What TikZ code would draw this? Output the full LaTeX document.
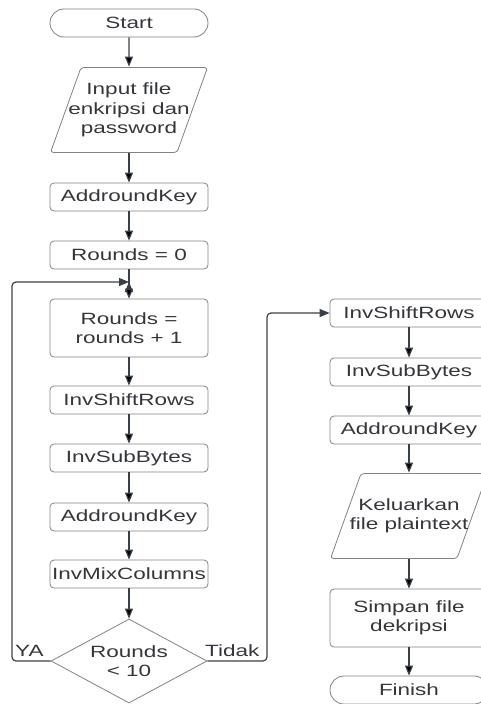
\documentclass[tikz,border=0pt]{standalone}
\usepackage{fontspec}
\setmainfont{Liberation Sans}[FakeStretch=1.38]
\usepackage{xcolor}
\definecolor{textgray}{RGB}{51,54,58}
\definecolor{boxgray}{RGB}{130,130,130}
\definecolor{linegray}{RGB}{58,64,72}
\usepackage{tikz}
\usetikzlibrary{arrows.meta}
\usetikzlibrary{shapes.misc}
\usetikzlibrary{shapes.geometric}
\newcommand{\widthbox}{158pt}
\newcommand{\heightbox}{28pt}
\newcommand{\heighttall}{58pt}
\newcommand{\slantio}{31pt}
\tikzset{
    common/.style={draw=boxgray, line width=0.8pt, text=textgray, align=center,
        inner sep=0pt, minimum width=\widthbox, minimum height=\heightbox,
        font=\fontsize{16.3}{19.5}\selectfont},
    proc/.style={common, rectangle, rounded corners=4pt},
    tallproc/.style={proc, minimum height=\heighttall},
    term/.style={common, rounded rectangle},
    io/.style={common, rectangle, draw=none, minimum height=86pt,
        path picture={
            \draw[boxgray, line width=0.8pt, rounded corners=3pt]
                ([xshift=\slantio, yshift=-0.5pt]path picture bounding box.north west)
                -- ([xshift=-0.5pt, yshift=-0.5pt]path picture bounding box.north east)
                -- ([xshift=-\slantio, yshift=0.5pt]path picture bounding box.south east)
                -- ([xshift=0.5pt, yshift=0.5pt]path picture bounding box.south west)
                -- cycle;
        }},
    cond/.style={common, diamond, aspect=1.85, minimum width=156pt, minimum height=84pt},
    flow/.style={draw=linegray, line width=1.2pt, >={Triangle[length=10pt,width=8pt]}},
    branch/.style={text=textgray, font=\fontsize{16.3}{19.5}\selectfont, inner sep=0pt}
}
\begin{document}
\begin{tikzpicture}[x=1pt,y=-1pt]
    \useasboundingbox (0,0) rectangle (480,704);
    % main column
    \path (129,23)
        node[term] (start) {Start}
        to ++(0,87) node[io] (input) {Input file\\enkripsi dan\\password}
        to ++(0,87) node[proc] (addkey0) {AddroundKey}
        to ++(0,58) node[proc] (zero) {Rounds = 0}
        to ++(0,73) node[tallproc] (inc) {Rounds =\\rounds + 1}
        to ++(0,72) node[proc] (shift1) {InvShiftRows}
        to ++(0,58) node[proc] (sub1) {InvSubBytes}
        to ++(0,59) node[proc] (addkey1) {AddroundKey}
        to ++(0,57) node[proc] (mix) {InvMixColumns}
        to ++(0,87) node[cond] (check) {Rounds\\< 10};
    % final column
    \path (409,313)
        node[proc] (shift2) {InvShiftRows}
        to ++(0,59) node[proc] (sub2) {InvSubBytes}
        to ++(0,58) node[proc] (addkey2) {AddroundKey}
        to ++(0,86) node[io] (output) {Keluarkan\\file plaintext}
        to ++(0,102) node[tallproc] (save) {Simpan file\\dekripsi}
        to ++(0,72) node[term] (finish) {Finish};
    \coordinate (join) at (129,282);

    \draw[->, flow] (start) edge (input) (input) edge (addkey0) (addkey0) edge (zero)
        (join) edge (inc) (inc) edge (shift1) (shift1) edge (sub1)
        (sub1) edge (addkey1) (addkey1) edge (mix) (mix) edge (check);
    \draw[flow] (zero) -- (join);
    \draw[->, flow] (shift2) edge (sub2) (sub2) edge (addkey2) (addkey2) edge (output)
        (output) edge (save) (save) edge (finish);
    \draw[->, flow, rounded corners=4pt] (check.west) -| (12,282) -- (join);
    \draw[->, flow, rounded corners=4pt] (check.east) -| (267,313) -- (shift2.west);
    \node[branch, anchor=south west] (ya) at (15,657) {YA};
    \node[branch, anchor=south west] (tidak) at (205,657) {Tidak};
\end{tikzpicture}
\end{document}
